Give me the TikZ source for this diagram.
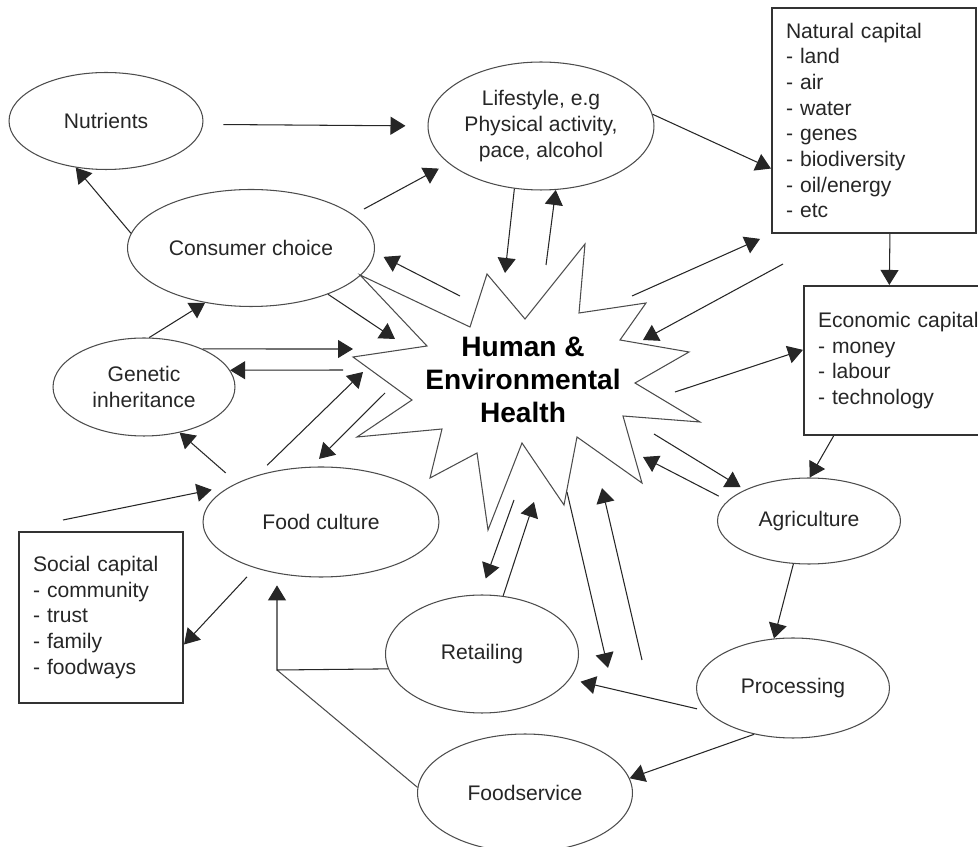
\documentclass[tikz,border=0pt]{standalone}
\usepackage{fontspec}
\setmainfont{Liberation Sans}
\usetikzlibrary{arrows.meta,shapes.geometric}

\begin{document}
\begin{tikzpicture}
	 [x=0.02cm,y=-0.02cm,
	  every node/.style={font=\fontsize{12}{14.6}\selectfont,text=black!85},
	  ell/.style={ellipse,draw=black!70,line width=0.6pt,inner sep=0pt},
	  capbox/.style={draw=black!80,line width=1.2pt,align=left,inner xsep=0.28cm},
	  arr/.style={-{Triangle[length=0.3cm,width=0.36cm]},line width=0.6pt,black!85},
	  conn/.style={line width=0.6pt,black!70},
	  spiky/.style={draw=black!70,line width=0.6pt}]

	\useasboundingbox (0,0) rectangle (978,847);

	  \node[ell,minimum width=3.88cm,minimum height=1.94cm] (nut) at (106,121) {Nutrients};
	  \node[ell,minimum width=4.94cm,minimum height=2.34cm] (cons) at (251,248) {Consumer choice};
	  \node[ell,minimum width=4.52cm,minimum height=2.56cm,align=center] (life) at (541,126) {Lifestyle, e.g\\Physical activity,\\pace, alcohol};
	  \node[ell,minimum width=3.64cm,minimum height=1.96cm,align=center] (gen) at (144,387) {Genetic\\inheritance};
	  \node[ell,minimum width=4.72cm,minimum height=2.2cm] (cult) at (321,522) {Food culture};
	  \node[ell,minimum width=3.86cm,minimum height=2.36cm] (retail) at (482,654) {Retailing};
	  \node[ell,minimum width=4.3cm,minimum height=2.36cm] (fserv) at (525,793) {Foodservice};
	  \node[ell,minimum width=3.66cm,minimum height=1.72cm] (agri) at (809,521) {Agriculture};
	  \node[ell,minimum width=3.86cm,minimum height=2cm] (proc) at (793,688) {Processing};

	  \node[capbox,minimum height=4.5cm,text width=3.52cm] (natcap) at (874,120.5) {Natural capital\\- land\\- air\\- water\\- genes\\- biodiversity\\- oil/energy\\- etc};
	  \node[capbox,minimum height=2.98cm,text width=3.44cm] (ecocap) at (904,360.5) {Economic capital\\- money\\- labour\\- technology};
	  \node[capbox,minimum height=3.42cm,text width=2.72cm] (soccap) at (101,617.5) {Social capital\\- community\\- trust\\- family\\- foodways};

	% the burst
	\draw[spiky] plot coordinates {(360,275) (470,327) (487,274) (525,319) (585,244) (579,313)
	  (646,303) (620,340) (689,352) (635,383) (700,422) (623,416) (642,483) (577,437)
	  (564,505) (522,443) (488,530) (477,453) (430,478) (442,429) (357,437) (412,400)
	  (353,357) (427,346)} -- cycle;
	  \node[font=\fontsize{16}{19}\selectfont\bfseries,text=black,align=center] (hub) at (523,380) {Human \&\\Environmental\\Health};

	% free ends round the burst
	  \coordinate (hlifein) at (505,273);
	  \coordinate (hlifeout) at (546,265);
	  \coordinate (hnatout) at (632,296);
	  \coordinate (hnatin) at (643,340);
	  \coordinate (natfree) at (783,264);
	  \coordinate (hecoout) at (675,392);
	  \coordinate (hagriout) at (654,434);
	  \coordinate (hagriin) at (643,457);
	  \coordinate (hlongout) at (567,492);
	  \coordinate (longend) at (608,668);
	  \coordinate (longstart) at (642,660);
	  \coordinate (hlongin) at (602,488);
	  \coordinate (hretout) at (514,500);
	  \coordinate (hretin) at (534,502);
	  \coordinate (hcultin) at (363,372);
	  \coordinate (hcultout) at (385,393);
	  \coordinate (hgenin) at (353,349);
	  \coordinate (hgenout) at (343,370);
	  \coordinate (hconsin) at (395,339);
	  \coordinate (hconsout) at (460,296);
	  \coordinate (socfree) at (63,520);
	  \coordinate (turn) at (277,670);

	\foreach \from/\to in {cons.173/nut.237,life.247/hlifein,hlifeout/life.283,life.6/natcap.205,
	  natfree/hnatin,natcap.-82/ecocap.101,hecoout/ecocap.174,ecocap.227/agri.89,agri.250/proc.111,
	  hlongout/longend,longstart/hlongin,retail.70/hretin,proc.230/fserv.8,gen.33/hgenin,
	  hgenout/gen.11,gen.84/cons.230,cons.-31/hconsin}
    \draw[arr] (\from) -- (\to);

	\draw[arr,shorten <=0.4cm,shorten >=0.44cm] (nut.-2) -- (life.west);
	\draw[arr,shorten <=0.24cm,shorten >=0.22cm] (cons.18) -- (life.202);
	\draw[arr,shorten >=0.24cm] (hnatout) -- (natcap.south west);
	\draw[arr,shorten >=0.1cm] (hagriout) -- (agri.154);
	\draw[arr,shorten <=0.2cm] (agri.166) -- (hagriin);
	\draw[arr,shorten >=0.34cm] (hretout) -- (retail.92);
	\draw[arr,shorten <=0.2cm,shorten >=0.22cm] (proc.195) -- (retail.-16);
	\draw[arr,shorten <=0.24cm] (cult.215) -- (soccap.-18);
	\draw[arr,shorten >=0.4cm] (socfree) -- (cult.158);
	\draw[arr,shorten <=0.3cm] (cult.155) -- (gen.-52);
	\draw[arr,shorten <=0.29cm] (cult.144) -- (hcultin);
	\draw[arr,shorten >=0.22cm] (hcultout) -- (cult.100);
	\draw[arr,shorten >=0.2cm] (hconsout) -- (cons.-2);

	\draw[conn] (fserv.177) -- (turn);
	\draw[arr,shorten >=0.24cm] (retail.189) -- (turn) -- (turn |- cult.229);

\end{tikzpicture}
\end{document}
